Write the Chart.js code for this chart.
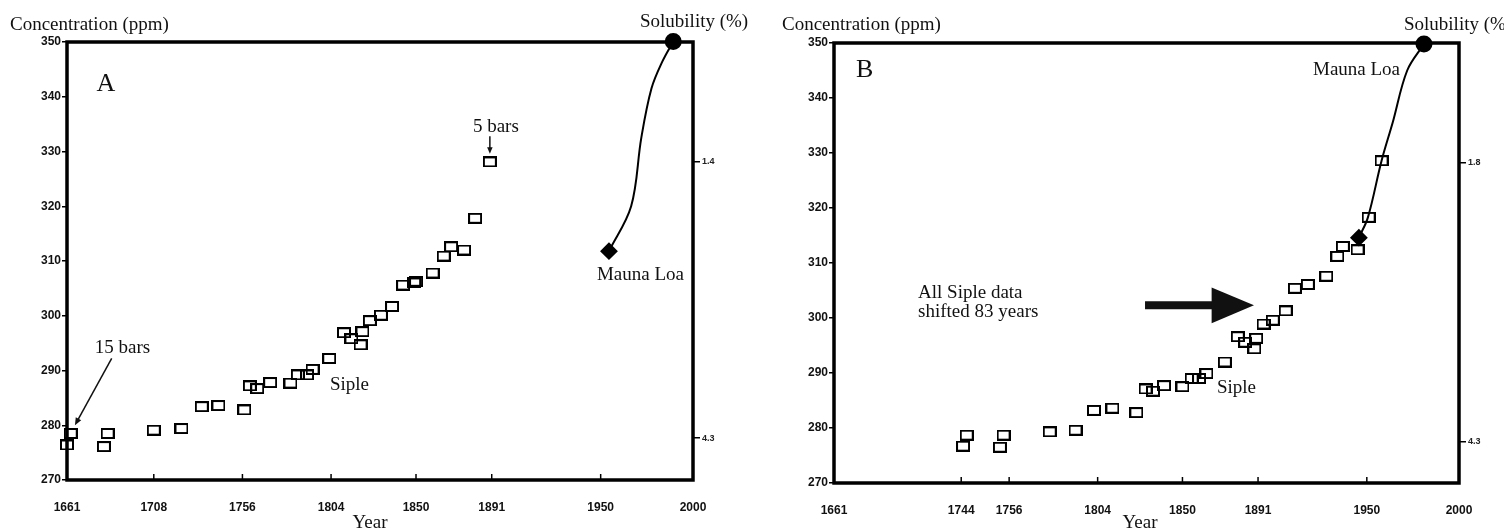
<!DOCTYPE html>
<html>
<head>
<meta charset="utf-8">
<title>Siple and Mauna Loa CO2</title>
<script src="https://cdn.jsdelivr.net/npm/chart.js"></script>
<style>
  body { margin: 0; background: #fff; }
  #wrap { position: relative; width: 1504px; height: 531px; overflow: hidden; }
  canvas { position: absolute; top: 0; }
  #panelA { left: 0; }
  #panelB { left: 752px; }
</style>
</head>
<body>
<div id="wrap">
  <canvas id="panelA" width="752" height="531"></canvas>
  <canvas id="panelB" width="752" height="531"></canvas>
</div>
<script>
// ---- data ----
// panel A: Siple ice core, original ages
const sipleYearsA = [1661, 1663, 1681, 1683, 1708, 1723, 1734, 1743, 1757, 1760, 1764, 1771, 1782, 1786, 1791, 1794, 1803,
    1811, 1815, 1820, 1821, 1825, 1831, 1837, 1843, 1849, 1850, 1859, 1865, 1869, 1876, 1882, 1890];
const sipleCo2A = [276.4, 278.5, 276.1, 278.5, 279.1, 279.4, 283.4, 283.6, 282.8, 287.2, 286.7, 287.8, 287.7, 289.2, 289.2, 290.2, 292.2,
    296.9, 295.8, 294.7, 297.1, 299.1, 300.1, 301.7, 305.6, 306.0, 306.3, 307.8, 310.9, 312.6, 312.0, 317.8, 328.1];
// panel A: Mauna Loa curve
const maunaYearsA = [1954.5, 1966.5, 1972.0, 1977.5, 1983.5, 1989.3];
const maunaCo2A = [311.8, 320.0, 332.5, 341.5, 346.5, 350.1];

// panel B: Siple data shifted
const sipleYearsB = [1731, 1733, 1751, 1753, 1778, 1792, 1802, 1812, 1825, 1830, 1834, 1840, 1850, 1855, 1859, 1863,
    1873, 1880, 1884, 1889, 1890, 1894, 1899, 1906, 1911, 1918, 1928, 1934, 1937, 1945, 1951, 1958];
const sipleCo2B = [276.7, 278.7, 276.5, 278.7, 279.3, 279.6, 283.2, 283.6, 282.8, 287.1, 286.7, 287.7, 287.5, 289.0, 289.0, 289.9,
    292.0, 296.6, 295.6, 294.4, 296.3, 298.9, 299.6, 301.3, 305.4, 306.1, 307.6, 311.2, 313.0, 312.4, 318.3, 328.6];
const maunaYearsB = [1945.7, 1950.6, 1958.0, 1964.0, 1971.9, 1981.0];
const maunaCo2B = [314.6, 318.3, 328.6, 335.5, 345.0, 349.8];

// axis ticks
const yearTicksA = [1661, 1708, 1756, 1804, 1850, 1891, 1950, 2000];
const yearLabelsA = ['1661', '1708', '1756', '1804', '1850', '1891', '1950', '2000'];
const yearTicksB = [1661, 1730, 1756, 1804, 1850, 1891, 1950, 2000];
const yearLabelsB = ['1661', '1744', '1756', '1804', '1850', '1891', '1950', '2000'];
const solTicksA = [1.4, 4.3];
const solTicksB = [1.8, 4.3];

// open box marker, a bit wider than tall like in the print
function makeBox() {
    const c = document.createElement('canvas');
    c.width = 14; c.height = 11;
    const g = c.getContext('2d');
    g.strokeStyle = '#000';
    g.lineWidth = 2;
    g.strokeRect(1, 1, 12, 9);
    return c;
}
const boxImg = makeBox();

const serif = '"Liberation Serif", "Times New Roman", serif';

function drawArrow(ctx, x1, y1, x2, y2, head, width) {
    const ang = Math.atan2(y2 - y1, x2 - x1);
    ctx.lineWidth = width;
    ctx.beginPath();
    ctx.moveTo(x1, y1);
    ctx.lineTo(x2 - Math.cos(ang) * head * 0.8, y2 - Math.sin(ang) * head * 0.8);
    ctx.stroke();
    ctx.beginPath();
    ctx.moveTo(x2, y2);
    ctx.lineTo(x2 - head * Math.cos(ang - 0.4), y2 - head * Math.sin(ang - 0.4));
    ctx.lineTo(x2 - head * Math.cos(ang + 0.4), y2 - head * Math.sin(ang + 0.4));
    ctx.closePath();
    ctx.fill();
}

// frame, inward year ticks, labels and arrows
const panelDecor = {
    id: 'panelDecor',
    beforeDatasetsDraw(chart, args, opts) {
        const ctx = chart.ctx, a = chart.chartArea, xs = chart.scales.x;
        ctx.save();
        ctx.strokeStyle = '#000';
        ctx.lineWidth = 3.5;
        ctx.strokeRect(a.left, a.top, a.right - a.left, a.bottom - a.top);
        ctx.lineWidth = 1.5;
        xs.ticks.forEach(t => {
            const px = xs.getPixelForValue(t.value);
            ctx.beginPath();
            ctx.moveTo(px, a.bottom);
            ctx.lineTo(px, a.bottom - 6);
            ctx.stroke();
        });
        ctx.restore();
    },
    afterDraw(chart, args, opts) {
        const ctx = chart.ctx, xs = chart.scales.x, ys = chart.scales.y;
        ctx.save();
        ctx.fillStyle = '#111';
        ctx.strokeStyle = '#111';
        ctx.textBaseline = 'middle';
        // labels placed in data coordinates
        (opts.notes || []).forEach(n => {
            ctx.font = (n.size || 19) + 'px ' + serif;
            ctx.textAlign = 'left';
            ctx.fillText(n.text, xs.getPixelForValue(n.year), ys.getPixelForValue(n.ppm));
        });
        // labels placed in pixels (axis titles)
        (opts.titles || []).forEach(n => {
            ctx.font = '19px ' + serif;
            ctx.textAlign = n.align || 'left';
            ctx.fillText(n.text, n.px, n.py);
        });
        (opts.arrows || []).forEach(ar => {
            drawArrow(ctx, xs.getPixelForValue(ar.from[0]), ys.getPixelForValue(ar.from[1]),
                xs.getPixelForValue(ar.to[0]), ys.getPixelForValue(ar.to[1]), ar.head, ar.width);
        });
        ctx.restore();
    }
};

function toPoints(xs, ys) {
    return xs.map((v, i) => ({ x: v, y: ys[i] }));
}

function buildPanel(id, p) {
    const tickFont = { family: '"Liberation Sans", Arial, sans-serif', size: 12, weight: 'bold' };
    const last = p.maunaYears.length - 1;
    new Chart(document.getElementById(id), {
        type: 'scatter',
        data: {
            datasets: [
                {
                    data: toPoints(p.sipleYears, p.sipleCo2),
                    pointStyle: boxImg,
                    pointRadius: 6,
                    showLine: false,
                    clip: false
                },
                {
                    data: toPoints(p.maunaYears, p.maunaCo2),
                    showLine: true,
                    borderColor: '#000',
                    borderWidth: 2,
                    tension: 0.35,
                    pointStyle: c => c.dataIndex === 0 ? 'rectRot' : 'circle',
                    pointRadius: c => (c.dataIndex === 0 || c.dataIndex === last) ? 7.5 : 0,
                    backgroundColor: '#000',
                    pointBorderColor: '#000',
                    clip: false
                }
            ]
        },
        options: {
            responsive: false,
            animation: false,
            events: [],
            layout: { padding: { top: p.top, left: 0, right: 0, bottom: 0 } },
            plugins: {
                legend: { display: false },
                tooltip: { enabled: false },
                panelDecor: { notes: p.notes, titles: p.titles, arrows: p.arrows }
            },
            scales: {
                x: {
                    type: 'linear',
                    min: 1661, max: 2000,
                    afterBuildTicks: s => { s.ticks = p.yearTicks.map(v => ({ value: v })); },
                    ticks: {
                        callback: (v, i) => p.yearLabels[i],
                        autoSkip: false, maxRotation: 0, padding: 12,
                        color: '#111', font: tickFont
                    },
                    grid: { display: false },
                    border: { display: false },
                    afterFit: s => { s.height = p.bottomH; }
                },
                y: {
                    min: 270, max: 350,
                    ticks: { stepSize: 10, padding: 1, color: '#111', font: tickFont },
                    grid: { display: true, drawOnChartArea: false, drawTicks: true, tickLength: 5, color: '#000', lineWidth: 1.5 },
                    border: { display: false },
                    afterFit: s => { s.width = p.leftW; }
                },
                y2: {
                    position: 'right',
                    reverse: true,
                    min: p.solMin, max: p.solMax,
                    afterBuildTicks: s => { s.ticks = p.solTicks.map(v => ({ value: v })); },
                    ticks: {
                        callback: v => v.toFixed(1), padding: 2, color: '#222',
                        font: { family: '"Liberation Sans", Arial, sans-serif', size: 9, weight: 'bold' }
                    },
                    grid: { display: true, drawOnChartArea: false, drawTicks: true, tickLength: 7, color: '#000', lineWidth: 1.5 },
                    border: { display: false },
                    afterFit: s => { s.width = p.rightW; }
                }
            }
        },
        plugins: [panelDecor]
    });
}

document.addEventListener('DOMContentLoaded', function() {
    // Panel A
    buildPanel('panelA', {
        sipleYears: sipleYearsA, sipleCo2: sipleCo2A,
        maunaYears: maunaYearsA, maunaCo2: maunaCo2A,
        yearTicks: yearTicksA, yearLabels: yearLabelsA,
        solTicks: solTicksA, solMin: 0.14, solMax: 4.74,
        top: 42, leftW: 67, rightW: 59, bottomH: 51,
        notes: [
            { text: 'A', year: 1677, ppm: 342.3, size: 26 },
            { text: '15 bars', year: 1676, ppm: 294.1 },
            { text: 'Siple', year: 1803.4, ppm: 287.4 },
            { text: '5 bars', year: 1880.8, ppm: 334.5 },
            { text: 'Mauna Loa', year: 1948, ppm: 307.4 }
        ],
        titles: [
            { text: 'Concentration (ppm)', px: 10, py: 25 },
            { text: 'Solubility (%)', px: 640, py: 22 },
            { text: 'Year', px: 370, py: 523, align: 'center' }
        ],
        arrows: [
            { from: [1685.2, 292.2], to: [1665.3, 280.0], head: 8, width: 1.5 },
            { from: [1890, 332.8], to: [1890, 329.6], head: 7, width: 1.5 }
        ]
    });

    // Panel B
    buildPanel('panelB', {
        sipleYears: sipleYearsB, sipleCo2: sipleCo2B,
        maunaYears: maunaYearsB, maunaCo2: maunaCo2B,
        yearTicks: yearTicksB, yearLabels: yearLabelsB,
        solTicks: solTicksB, solMin: 0.73, solMax: 4.67,
        top: 43, leftW: 82, rightW: 45, bottomH: 48,
        notes: [
            { text: 'B', year: 1673, ppm: 345.0, size: 26 },
            { text: 'All Siple data', year: 1706.6, ppm: 304.5 },
            { text: 'shifted 83 years', year: 1706.6, ppm: 301.0 },
            { text: 'Siple', year: 1868.7, ppm: 287.2 },
            { text: 'Mauna Loa', year: 1920.8, ppm: 345.0 }
        ],
        titles: [
            { text: 'Concentration (ppm)', px: 30, py: 25 },
            { text: 'Solubility (%)', px: 652, py: 25 },
            { text: 'Year', px: 388, py: 523, align: 'center' }
        ],
        arrows: [
            { from: [1829.7, 302.3], to: [1888.8, 302.3], head: 46, width: 8 }
        ]
    });
});
</script>
</body>
</html>
